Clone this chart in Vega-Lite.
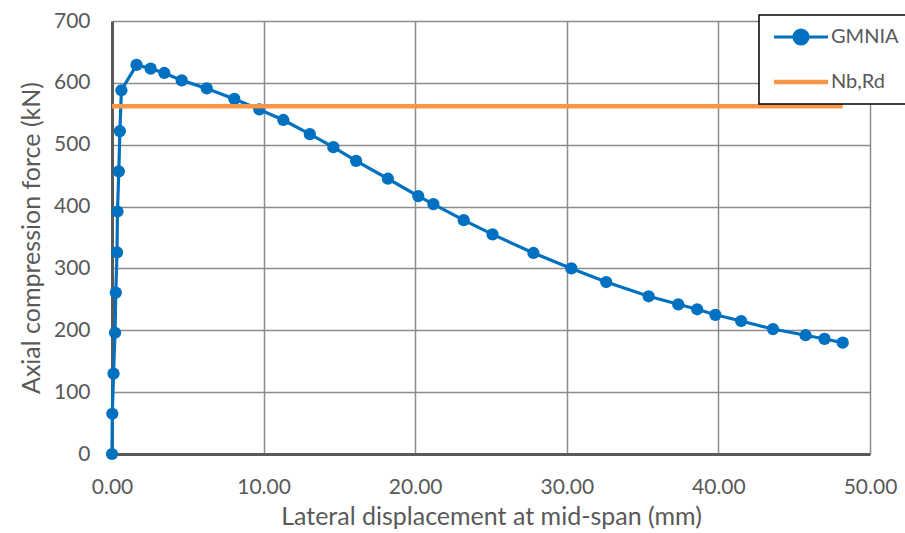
{
  "$schema": "https://vega.github.io/schema/vega-lite/v6.json",
  "width": 758,
  "height": 433,
  "autosize": {"type": "none"},
  "padding": {"left": 112, "top": 21, "right": 35, "bottom": 79},
  "background": "white",
  "config": {
    "font": "Lato",
    "view": {"stroke": null},
    "axis": {
      "labelFont": "Lato",
      "titleFont": "Lato",
      "labelColor": "#595959",
      "titleColor": "#595959",
      "labelFontSize": 21,
      "titleFontSize": 25,
      "titleFontWeight": "normal",
      "labelFlush": false,
      "labelOverlap": false,
      "ticks": false,
      "gridColor": "#8c8c8c",
      "gridWidth": 1.5,
      "gridOpacity": {"condition": {"test": "datum.value === 0", "value": 0}, "value": 1},
      "domainColor": "#595959",
      "domainWidth": 3
    }
  },
  "datasets": {
    "gmnia": [
      {"d": 0, "f": 0, "s": "GMNIA"},
      {"d": 0.02, "f": 65, "s": "GMNIA"},
      {"d": 0.1, "f": 130, "s": "GMNIA"},
      {"d": 0.2, "f": 196, "s": "GMNIA"},
      {"d": 0.25, "f": 261, "s": "GMNIA"},
      {"d": 0.33, "f": 326, "s": "GMNIA"},
      {"d": 0.36, "f": 392, "s": "GMNIA"},
      {"d": 0.45, "f": 457, "s": "GMNIA"},
      {"d": 0.52, "f": 522, "s": "GMNIA"},
      {"d": 0.62, "f": 588, "s": "GMNIA"},
      {"d": 1.62, "f": 629, "s": "GMNIA"},
      {"d": 2.55, "f": 623, "s": "GMNIA"},
      {"d": 3.45, "f": 616, "s": "GMNIA"},
      {"d": 4.6, "f": 604, "s": "GMNIA"},
      {"d": 6.25, "f": 591, "s": "GMNIA"},
      {"d": 8.07, "f": 574, "s": "GMNIA"},
      {"d": 9.72, "f": 557, "s": "GMNIA"},
      {"d": 11.3, "f": 540, "s": "GMNIA"},
      {"d": 13.05, "f": 517, "s": "GMNIA"},
      {"d": 14.6, "f": 496, "s": "GMNIA"},
      {"d": 16.1, "f": 474, "s": "GMNIA"},
      {"d": 18.2, "f": 445, "s": "GMNIA"},
      {"d": 20.2, "f": 417, "s": "GMNIA"},
      {"d": 21.2, "f": 404, "s": "GMNIA"},
      {"d": 23.2, "f": 378, "s": "GMNIA"},
      {"d": 25.1, "f": 355, "s": "GMNIA"},
      {"d": 27.8, "f": 325, "s": "GMNIA"},
      {"d": 30.3, "f": 300, "s": "GMNIA"},
      {"d": 32.6, "f": 278, "s": "GMNIA"},
      {"d": 35.4, "f": 255, "s": "GMNIA"},
      {"d": 37.35, "f": 242, "s": "GMNIA"},
      {"d": 38.6, "f": 234, "s": "GMNIA"},
      {"d": 39.8, "f": 225, "s": "GMNIA"},
      {"d": 41.5, "f": 215, "s": "GMNIA"},
      {"d": 43.6, "f": 202, "s": "GMNIA"},
      {"d": 45.75, "f": 192, "s": "GMNIA"},
      {"d": 47.0, "f": 186, "s": "GMNIA"},
      {"d": 48.2, "f": 180, "s": "GMNIA"}
    ],
    "nbrd": [
      {"d": 0, "f": 562, "s": "Nb,Rd"},
      {"d": 48.2, "f": 562, "s": "Nb,Rd"}
    ]
  },
  "encoding": {
    "x": {
      "field": "d",
      "type": "quantitative",
      "scale": {"domain": [0, 50], "nice": false},
      "axis": {
        "values": [0, 10, 20, 30, 40, 50],
        "format": ".2f",
        "title": "Lateral displacement at mid-span (mm)",
        "labelPadding": 22,
        "titlePadding": 7,
        "grid": true
      }
    },
    "y": {
      "field": "f",
      "type": "quantitative",
      "scale": {"domain": [0, 700], "nice": false},
      "axis": {
        "values": [0, 100, 200, 300, 400, 500, 600, 700],
        "title": "Axial compression force (kN)",
        "labelPadding": 22,
        "titlePadding": 9,
        "grid": true
      }
    },
    "color": {
      "field": "s",
      "type": "nominal",
      "scale": {"domain": ["GMNIA", "Nb,Rd"], "range": ["#0070C0", "#F79646"]},
      "legend": {
        "title": null,
        "orient": "none",
        "legendX": 647,
        "legendY": -6,
        "fillColor": "white",
        "strokeColor": "#000000",
        "padding": 12,
        "labelFont": "Lato",
        "labelFontSize": 20,
        "labelColor": "#595959",
        "labelOffset": 20,
        "labelLimit": 400,
        "labelExpr": "datum.label + '\u00a0\u00a0\u00a0\u00a0\u00a0\u00a0\u00a0\u00a0\u00a0\u00a0\u00a0\u00a0\u00a0\u00a0'",
        "rowPadding": 21,
        "symbolSize": 182,
        "symbolStrokeWidth": 3.5,
        "symbolOffset": 20,
        "encode": {
          "legend": {
            "update": {"strokeWidth": {"value": 1.5}}
          },
          "symbols": {
            "update": {
              "shape": {"signal": "datum.value === 'GMNIA' ? 'M-4,0H4M-1.05,0A1.05,1.05,0,1,0,1.05,0A1.05,1.05,0,1,0,-1.05,0Z' : 'M-4,0H4'"},
              "fill": {"signal": "datum.value === 'GMNIA' ? '#0070C0' : 'transparent'"},
              "strokeWidth": {"signal": "datum.value === 'GMNIA' ? 3 : 4.5"}
            }
          }
        }
      }
    }
  },
  "layer": [
    {
      "data": {"name": "gmnia"},
      "mark": {"type": "line", "strokeWidth": 3.2, "clip": false}
    },
    {
      "data": {"name": "gmnia"},
      "mark": {"type": "point", "filled": true, "size": 150, "opacity": 1, "shape": "circle", "clip": false}
    },
    {
      "data": {"name": "nbrd"},
      "mark": {"type": "line", "strokeWidth": 4.5}
    }
  ]
}
